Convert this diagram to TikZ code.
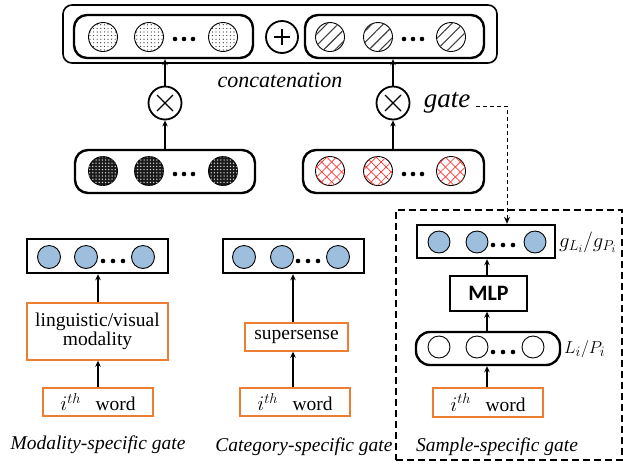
\documentclass[tikz,border=0pt]{standalone}
\usepackage{fontspec}
\setmainfont{Liberation Serif}
\newfontfamily\mlpfont{Carlito}
\usetikzlibrary{patterns.meta,arrows.meta,calc}
\definecolor{orangeA}{RGB}{237,125,49}
\definecolor{blueA}{RGB}{157,190,220}
\newcommand\fsA{\fontsize{19.5}{21}\selectfont}
\newcommand\fsB{\fontsize{19.5}{21}\selectfont}
\tikzset{
 outerbox/.style={draw, line width=1.6pt, rounded corners=9pt, inner sep=0},
 pill/.style={draw, line width=2.4pt, rounded corners=13pt, inner sep=0},
 sbox/.style={draw, line width=2.4pt, inner sep=0},
 obox/.style={draw=orangeA, line width=1.4pt, inner sep=0, font=\fsA, align=center},
 circA/.style={circle, draw, line width=0.9pt, minimum size=29pt, inner sep=0, fill=white},
 dotc/.style={circA, postaction={pattern={Dots[distance=3.6pt,radius=0.6pt]}, pattern color=black!85}},
 hatc/.style={circA, postaction={pattern={Lines[angle=45,distance=8pt,line width=1.1pt]}, pattern color=black!75}},
 darkc/.style={circA, fill=black!90, postaction={pattern={Dots[distance=3.2pt,radius=0.75pt]}, pattern color=white!85!black}},
 redc/.style={circA, postaction={pattern={Lines[angle=45,distance=7pt,line width=0.7pt]}, pattern color=red!80},
   postaction={pattern={Lines[angle=-45,distance=7pt,line width=0.7pt]}, pattern color=red!80}},
 bluec/.style={circle, draw, line width=0.9pt, minimum size=23pt, inner sep=0, fill=blueA},
 whitec/.style={circle, draw, line width=0.9pt, minimum size=22pt, inner sep=0, fill=white},
 opc/.style={circle, draw, line width=1.8pt, minimum size=33pt, inner sep=0, fill=white},
 arr/.style={line width=1.9pt, -{Stealth[length=6pt,width=5.5pt]}},
 lab/.style={font=\fsB\itshape, inner sep=0},
}
\begin{document}
\begin{tikzpicture}[x=1pt,y=-1pt]
\useasboundingbox (0,0) rectangle (623,464);
% ---- top concatenation
\node[outerbox, minimum width=434pt, minimum height=58pt] (outer) at (280,34) {};
\node[pill, minimum width=179pt, minimum height=43pt] (catL) at (163.5,36.5) {};
\node[pill, minimum width=179pt, minimum height=43pt] (catR) at (394.5,36.5) {};
\node[dotc] (tl1) at (103,37) {};
\node[dotc] (tl2) at (149,37) {};
\node[dotc] (tl3) at (223,37) {};
\node[hatc] (tr1) at (330,37) {};
\node[hatc] (tr2) at (378,37) {};
\node[hatc] (tr3) at (451,37) {};
\foreach \x in {175,184,193,404,413,422} \fill (\x,39) circle[radius=2.3pt];
\node[opc, minimum size=32pt] (plus) at (282,37) {};
\draw[line width=2.2pt] ([shift={(-8,0)}]plus.center) -- ([shift={(8,0)}]plus.center)
  ([shift={(0,-8)}]plus.center) -- ([shift={(0,8)}]plus.center);
\node[lab, font=\fontsize{22}{24}\selectfont\itshape] (concat) at (280,80) {concatenation};
% ---- multiply
\node[opc] (mulL) at (165,103) {};
\node[opc] (mulR) at (393,103) {};
\foreach \m in {mulL,mulR}
  \draw[line width=1.1pt] ([shift={(-8,-8)}]\m.center) -- ([shift={(8,8)}]\m.center)
    ([shift={(-8,8)}]\m.center) -- ([shift={(8,-8)}]\m.center);
\node[lab, font=\fontsize{27}{29}\selectfont\itshape] (gate) at (447,103) {gate};
% ---- lower pills
\node[pill, minimum width=180pt, minimum height=43pt] (embL) at (165,171.5) {};
\node[pill, minimum width=181pt, minimum height=43pt] (embR) at (393.5,171.5) {};
\node[darkc] (bl1) at (103,171) {};
\node[darkc] (bl2) at (149,171) {};
\node[darkc] (bl3) at (223,171) {};
\node[redc] (br1) at (330,171) {};
\node[redc] (br2) at (378,171) {};
\node[redc] (br3) at (451,171) {};
\foreach \x in {175,184,193,404,413,422} \fill (\x,174) circle[radius=2.3pt];
\draw[arr] (embL.north -| mulL) -- (mulL.south);
\draw[arr] (embR.north -| mulR) -- (mulR.south);
\draw[arr] (mulL.north) -- (mulL.north |- catL.south);
\draw[arr] (mulR.north) -- (mulR.north |- catR.south);
% ---- modality-specific
\node[sbox, minimum width=141pt, minimum height=34pt] (mtop) at (97.5,256) {};
\node[bluec] (m1) at (49,257) {};
\node[bluec] (m2) at (86,257) {};
\node[bluec] (m3) at (143,257) {};
\foreach \x in {103,113,123} \fill (\x,261) circle[radius=2.3pt];
\node[obox, minimum width=141pt, minimum height=57pt] (modal) at (97.5,331.5) {linguistic/visual\\[-2pt]modality};
\node[obox, minimum width=110pt, minimum height=28pt] (mword) at (98,402) {$i^{th}$\ \ \ word};
\draw[arr] (mword.north) -- (mword.north |- modal.south);
\draw[arr] (modal.north -| mword) -- (mword |- mtop.south);
\node[lab] (mcap) at (98,445) {Modality-specific gate};
% ---- category-specific
\node[sbox, minimum width=141pt, minimum height=34pt] (ctop) at (293.5,256) {};
\node[bluec] (c1) at (244,257) {};
\node[bluec] (c2) at (282,257) {};
\node[bluec] (c3) at (338,257) {};
\foreach \x in {298,308,318} \fill (\x,261) circle[radius=2.3pt];
\node[obox, minimum width=103pt, minimum height=28pt] (super) at (296.5,337) {supersense};
\node[obox, minimum width=110pt, minimum height=28pt] (cword) at (295,402) {$i^{th}$\ \ \ word};
\coordinate (cx) at (293,300);
\draw[arr] (cword.north -| cx) -- (cx |- super.south);
\draw[arr] (super.north -| cx) -- (cx |- ctop.south);
\node[lab] (ccap) at (304,447) {Category-specific gate};
% ---- sample-specific
\node[draw, dash pattern=on 7pt off 4pt, line width=1.1pt, minimum width=226pt, minimum height=250pt, inner sep=0] (sframe) at (509,335) {};
\node[sbox, minimum width=138pt, minimum height=33pt] (stop) at (486,241.5) {};
\node[bluec, minimum size=22pt] (s1) at (439,242) {};
\node[bluec, minimum size=22pt] (s2) at (477,242) {};
\node[bluec, minimum size=22pt] (s3) at (535,242) {};
\foreach \x in {493,503,513} \fill (\x,245) circle[radius=2.3pt];
\node[draw, line width=1.4pt, minimum width=77pt, minimum height=35pt, inner sep=0, font=\fontsize{22}{24}\selectfont\mlpfont\bfseries] (mlp) at (488.5,293.5) {MLP};
\node[pill, rounded corners=14pt, minimum width=144pt, minimum height=33pt] (lp) at (488,348.5) {};
\node[whitec] (w1) at (439,347) {};
\node[whitec] (w2) at (477,347) {};
\node[whitec] (w3) at (533,347) {};
\foreach \x in {493,503,513} \fill (\x,352) circle[radius=2.3pt];
\node[obox, minimum width=110pt, minimum height=29pt] (sword) at (488,402.5) {$i^{th}$\ \ \ word};
\coordinate (sx) at (487,300);
\draw[arr] (sword.north -| sx) -- (sx |- lp.south);
\draw[arr] (lp.north -| sx) -- (sx |- mlp.south);
\draw[arr] (mlp.north -| sx) -- (sx |- stop.south);
\node[anchor=west, inner sep=0, font=\fontsize{21}{23}\selectfont] (glab) at (559,242) {$g_{L_i}/g_{P_i}$};
\node[anchor=west, inner sep=0, font=\fontsize{19}{21}\selectfont] (llab) at (564,349) {$L_i/P_i$};
\node[lab] (scap) at (497,447) {Sample-specific gate};
% ---- gate connector
\coordinate (gturn) at (507,106);
\draw[dash pattern=on 4pt off 3pt, line width=1pt, -{Stealth[length=7pt,width=6pt]}, shorten <=6pt] (gate.east |- gturn) -- (gturn) -- (gturn |- stop.north);
\end{tikzpicture}
\end{document}
